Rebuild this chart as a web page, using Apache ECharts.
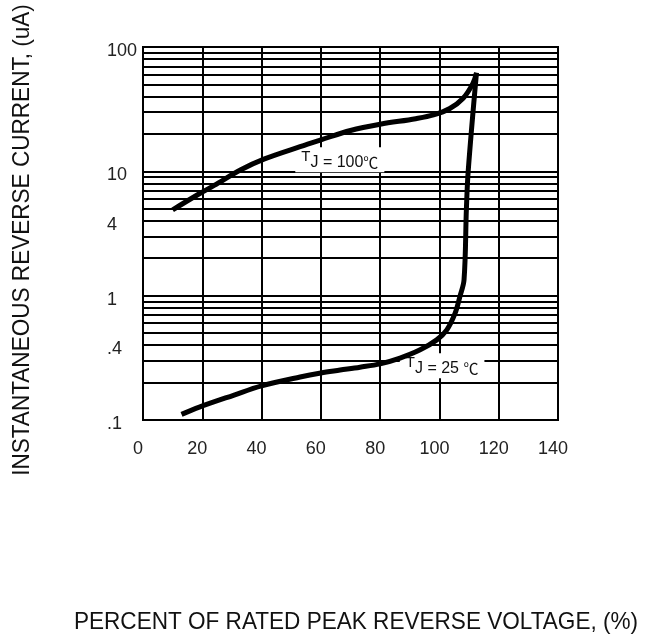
<!DOCTYPE html>
<html>
<head>
<meta charset="utf-8">
<script src="https://cdn.jsdelivr.net/npm/echarts@6/dist/echarts.min.js"></script>
<style>html,body{margin:0;padding:0;background:#fff}#c{width:650px;height:640px}</style>
</head>
<body>
<div id="c"></div>
<script>
// x ticks (percent of rated peak reverse voltage)
var xTicks = [0, 20, 40, 60, 80, 100, 120, 140];
// y axis labels (uA)
var yLabels = [0.1, 0.4, 1, 4, 10, 100];
// horizontal grid values (log grid)
var gridValues = [0.2, 0.3, 0.4, 0.5, 0.6, 0.7, 0.8, 0.9, 1,
                  2, 3, 4, 5, 6, 7, 8, 9, 10,
                  20, 30, 40, 50, 60, 70, 80, 90];
// TJ = 100 C curve
var tj100X = [10, 19, 24, 33, 41, 53, 60, 70, 80, 92, 98, 103.5, 108, 111.3, 112.5];
var tj100Y = [4.9, 6.6, 7.7, 10.3, 12.6, 15.8, 17.9, 21.3, 23.9, 26.5, 28.4, 32, 38.7, 51, 62];
// TJ = 25 C curve
var tj25X = [13, 19, 30.5, 40, 53, 60, 66.5, 73.2, 80, 86.7, 93.5, 99.1, 102.5, 105.3, 106.9, 108.3, 109.1, 109.7, 112.5];
var tj25Y = [0.111, 0.127, 0.158, 0.188, 0.222, 0.239, 0.252, 0.266, 0.283, 0.315, 0.367, 0.441, 0.531, 0.723, 0.984, 1.34, 5, 10, 62];
// curve labels
var label100 = {x: 66.4, y: 12.4, t: 'T', rest: 'J = 100', unit: '\u2103'};
var label25 = {x: 100.9, y: 0.273, t: 'T', rest: 'J = 25 ', unit: '\u2103'};
// titles
var xTitle = 'PERCENT OF RATED PEAK REVERSE VOLTAGE, (%)';
var yTitle = 'INSTANTANEOUS REVERSE CURRENT, (uA)';

function zip(xs, ys) { return xs.map(function (x, i) { return [x, ys[i]]; }); }
function fmtY(v) { var s = String(+v); s = s.indexOf('0.') === 0 ? s.substring(1) : s; return '{a|' + s + '}'; }

var chart = echarts.init(document.getElementById('c'), null, {renderer: 'canvas'});
var richLabel = {
  t: {fontSize: 15, lineHeight: 15, verticalAlign: 'top', color: '#111', fontFamily: 'Liberation Sans'},
  n: {fontSize: 16, lineHeight: 21, verticalAlign: 'bottom', color: '#111', fontFamily: 'Liberation Sans'},
  c: {fontSize: 15, lineHeight: 21, verticalAlign: 'bottom', color: '#111', fontFamily: 'Noto Sans CJK SC'}
};
function mkPoint(l) {
  return {
    symbol: 'rect', symbolSize: [1, 1], silent: true,
    itemStyle: {color: 'rgba(0,0,0,0)'},
    label: {
      show: true, position: 'inside', backgroundColor: '#fff', padding: [2, 6],
      formatter: '{t|' + l.t + '}{n|' + l.rest + '}{c|' + l.unit + '}', rich: richLabel
    },
    data: [{coord: [l.x, l.y]}]
  };
}

var titleFont = '24px "Liberation Sans", Arial, sans-serif';
var option = {
  animation: false,
  backgroundColor: '#fff',
  grid: {left: 143, right: 92, top: 47, bottom: 220, show: true, borderColor: '#000', borderWidth: 2, backgroundColor: 'transparent'},
  graphic: [
    {type: 'text', x: 356, y: 622, scaleX: 0.94, silent: true,
     style: {text: xTitle, font: titleFont, fill: '#111', align: 'center', verticalAlign: 'middle'}},
    {type: 'text', x: 22, y: 240, rotation: Math.PI / 2, scaleX: 0.94, silent: true,
     style: {text: yTitle, font: titleFont, fill: '#111', align: 'center', verticalAlign: 'middle'}}
  ],
  xAxis: {
    type: 'value', min: 0, max: 140, interval: 20,
    axisLine: {lineStyle: {color: '#000', width: 2}},
    axisTick: {show: false},
    splitLine: {show: true, lineStyle: {color: '#000', width: 2}},
    axisLabel: {
      margin: 20, fontFamily: 'Liberation Sans', fontSize: 18, color: '#222',
      padding: [0, 10, 0, 0], customValues: xTicks
    }
  },
  yAxis: {
    type: 'log', logBase: 10, min: 0.1, max: 100,
    axisLine: {lineStyle: {color: '#000', width: 2}},
    axisTick: {show: false},
    splitLine: {show: false},
    minorSplitLine: {show: false},
    axisLabel: {
      margin: 36, align: 'left', fontFamily: 'Liberation Sans', fontSize: 18, color: '#222',
      customValues: yLabels, formatter: fmtY,
      rich: {a: {fontFamily: 'Liberation Sans', fontSize: 18, color: '#222', padding: [8, 0, 0, 0]}}
    }
  },
  series: [
    {
      type: 'line', name: 'grid', data: [], silent: true,
      markLine: {
        silent: true, symbol: 'none', animation: false,
        label: {show: false},
        lineStyle: {color: '#000', width: 2, type: 'solid'},
        emphasis: {disabled: true},
        data: gridValues.map(function (v) { return {yAxis: v}; })
      }
    },
    {
      type: 'line', name: 'TJ100', data: zip(tj100X, tj100Y), symbol: 'none',
      smooth: 0.35,
      lineStyle: {color: '#000', width: 5, cap: 'butt'}, z: 5,
      markPoint: mkPoint(label100)
    },
    {
      type: 'line', name: 'TJ25', data: zip(tj25X, tj25Y), symbol: 'none',
      smooth: 0.35,
      lineStyle: {color: '#000', width: 5, cap: 'butt'}, z: 5,
      markPoint: mkPoint(label25)
    }
  ]
};
chart.setOption(option);
</script>
</body>
</html>
